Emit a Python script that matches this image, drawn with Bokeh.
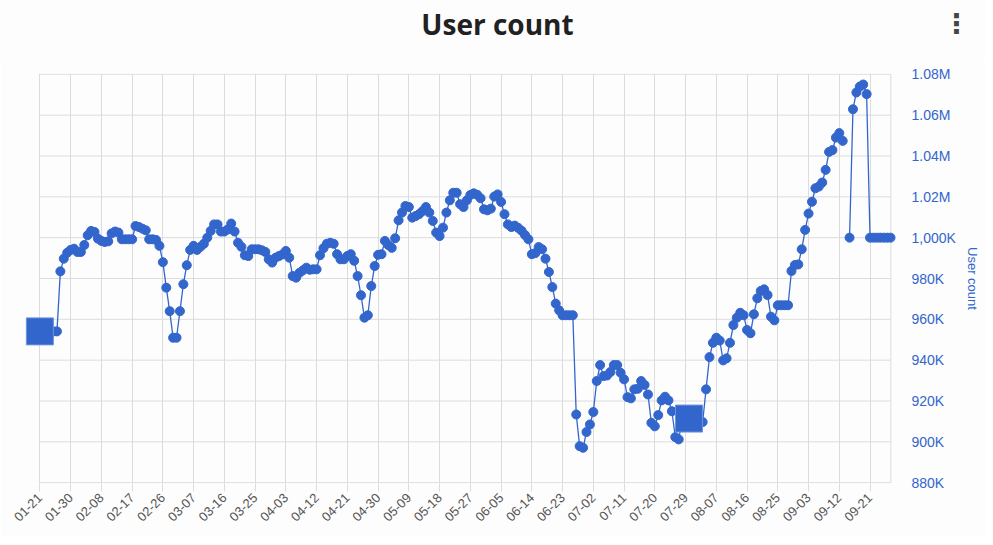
import numpy as np
import pandas as pd
from bokeh.plotting import figure
from bokeh.layouts import column
from bokeh.models import Range1d, FixedTicker, DatetimeTickFormatter, ColumnDataSource, Div
from bokeh.embed import file_html
from bokeh.resources import INLINE

# Daily user counts in thousands, starting 01-21 (None = missing day)
users_k = [
    954.1, 954.1, 954.1, 954.1, 954.1, 954.1, 983.5, 989.7, 992.6, 994.0,
    994.6, 993.0, 993.0, 996.4, 1001.2, 1003.3, 1002.8, 999.5, 998.4, 997.9,
    998.2, 1002.1, 1003.0, 1002.5, 999.2, 999.2, 999.2, 999.2, 1005.7, 1005.2,
    1004.4, 1003.6, 999.2, 999.2, 998.9, 996.0, 988.0, 975.5, 964.0, 951.0,
    951.0, 964.0, 977.2, 986.5, 994.0, 996.0, 994.0, 995.5, 997.0, 1000.0,
    1003.3, 1006.5, 1006.5, 1003.0, 1003.0, 1004.0, 1006.9, 1003.0, 997.5, 995.5,
    991.4, 991.0, 994.3, 994.3, 994.3, 993.8, 993.0, 989.4, 987.8, 990.2,
    991.0, 991.8, 993.5, 990.2, 981.2, 980.4, 982.8, 984.0, 985.3, 984.3,
    984.5, 984.5, 991.4, 994.8, 997.0, 997.5, 997.0, 991.9, 989.4, 989.4,
    991.0, 991.9, 988.7, 981.2, 971.8, 960.8, 962.0, 976.3, 986.1, 991.6,
    991.9, 998.4, 996.4, 995.0, 999.7, 1008.5, 1012.3, 1015.5, 1015.0, 1009.8,
    1010.6, 1011.5, 1013.0, 1015.0, 1012.3, 1008.2, 1002.5, 1000.8, 1004.9, 1012.3,
    1018.3, 1022.0, 1022.0, 1016.4, 1015.0, 1018.3, 1020.9, 1021.7, 1021.0, 1019.3,
    1013.9, 1013.4, 1014.2, 1020.1, 1021.2, 1017.5, 1011.5, 1006.5, 1005.2, 1005.9,
    1004.8, 1003.4, 1001.3, 999.2, 991.9, 992.4, 995.4, 994.3, 989.7, 983.2,
    975.8, 967.7, 964.4, 962.0, 962.0, 962.0, 962.0, 913.4, 897.9, 897.1,
    904.8, 908.5, 914.6, 929.8, 937.6, 932.2, 932.5, 934.2, 937.6, 937.6,
    933.8, 930.6, 921.9, 921.3, 925.7, 926.0, 929.8, 927.9, 923.2, 909.3,
    907.6, 913.1, 920.3, 922.1, 920.3, 915.0, 902.3, 901.2, 911.0, 911.5,
    911.4, 911.0, 910.5, 910.0, 909.7, 925.7, 941.5, 948.5, 951.0, 949.6,
    939.9, 940.9, 948.5, 957.2, 960.8, 963.2, 962.0, 954.8, 953.2, 962.5,
    970.3, 973.9, 974.7, 971.9, 961.3, 959.5, 966.9, 966.9, 966.9, 966.9,
    983.7, 986.6, 986.9, 994.3, 1003.8, 1011.8, 1017.6, 1024.2, 1025.0, 1027.0,
    1033.2, 1042.0, 1042.9, 1049.0, 1051.2, 1047.4, None, 1000.0, 1062.9, 1071.1,
    1074.0, 1075.0, 1070.3, 1000.0, 1000.0, 1000.0, 1000.0, 1000.0, 1000.0, 1000.0,
]
start_date = "2023-01-21"

# highlighted (square) points
highlight_dates = ["2023-01-21", "2023-07-30"]
highlight_k = [954.1, 911.4]

x_tick_labels = [
    "01-21", "01-30", "02-08", "02-17", "02-26", "03-07", "03-16", "03-25",
    "04-03", "04-12", "04-21", "04-30", "05-09", "05-18", "05-27", "06-05",
    "06-14", "06-23", "07-02", "07-11", "07-20", "07-29", "08-07", "08-16",
    "08-25", "09-03", "09-12", "09-21",
]
y_ticks = [880000, 900000, 920000, 940000, 960000, 980000, 1000000,
           1020000, 1040000, 1060000, 1080000]
y_tick_labels = ["880K", "900K", "920K", "940K", "960K", "980K", "1,000K",
                 "1.02M", "1.04M", "1.06M", "1.08M"]
title_text = "User count"
menu_text = "\u22ee"

BLUE = "#3366CC"
GRID = "#dcdcdc"
BG = "#fdfdfd"


def ms(ts):
    return pd.Timestamp(ts).value / 1e6


W = 985
HEAD_H = 63
BL, BT, FW, FH, BB = 24, 10, 878, 410, 54

# ---------------- header (title + menu icon) ----------------
head_html = (
    f'<div style="position:relative;width:{W}px;height:{HEAD_H}px;margin:0;padding:0;">'
    f'<div style="position:absolute;left:0;top:5px;width:995px;text-align:center;'
    f"font-family:'Open Sans';font-weight:bold;font-size:28px;line-height:38px;"
    f'color:#212121;white-space:nowrap;">{title_text}</div>'
    f'<div style="position:absolute;left:943px;top:5px;width:20px;text-align:center;'
    f"font-family:'DejaVu Sans';font-weight:bold;font-size:27px;line-height:38px;"
    f'color:#444444;">{menu_text}</div>'
    f'</div>'
)
head = Div(text=head_html, width=W, height=HEAD_H,
           styles={"background-color": BG, "margin": "0", "padding": "0"})

# ---------------- main chart ----------------
dates = pd.date_range(start_date, periods=len(users_k), freq="D")
users = np.array([np.nan if v is None else v * 1000 for v in users_k])
src = ColumnDataSource(dict(date=dates, users=users))

day = 86400000.0
t0 = ms(dates[0])
t_end = ms(dates[-1]) + 0.1 * day

p = figure(
    width=W, height=BT + FH + BB,
    output_backend="svg", toolbar_location=None,
    x_axis_type="datetime", y_axis_location="right",
    x_range=Range1d(t0 - 4.5 * day, t0 + 252.5 * day),
    y_range=Range1d(879600, 1080400),
    min_border_left=BL, min_border_right=W - BL - FW,
    min_border_top=BT, min_border_bottom=BB,
    background_fill_color=BG, border_fill_color=BG,
    outline_line_color=None,
)

# horizontal grid lines limited to the data span, plus right border
gsrc = ColumnDataSource(dict(x0=[t0] * len(y_ticks), x1=[t_end] * len(y_ticks),
                             y0=y_ticks, y1=y_ticks))
p.segment(x0="x0", x1="x1", y0="y0", y1="y1", source=gsrc,
          line_color=GRID, line_width=1)
p.segment(x0=[t_end], x1=[t_end], y0=[y_ticks[0]], y1=[y_ticks[-1]],
          line_color=GRID, line_width=1)

p.ygrid.visible = False
p.xgrid.grid_line_color = GRID
p.xgrid.ticker = FixedTicker(ticks=[ms(start_date[:5] + t) for t in x_tick_labels])

# data
p.line("date", "users", source=src, line_color=BLUE, line_width=1.3)
p.scatter("date", "users", source=src, size=9, color=BLUE)
p.scatter(x=[ms(d) for d in highlight_dates], y=[v * 1000 for v in highlight_k],
          marker="square", size=27, fill_color=BLUE, line_color="#6f93dd",
          line_width=1)

# x axis
xa = p.xaxis[0]
xa.ticker = FixedTicker(ticks=[ms(start_date[:5] + t) for t in x_tick_labels])
fmt = "%m-%d"
xa.formatter = DatetimeTickFormatter(days=fmt, months=fmt, hours=fmt,
                                     years=fmt, minutes=fmt, seconds=fmt)
xa.major_label_orientation = np.pi / 4
xa.axis_line_color = None
xa.major_tick_line_color = GRID
xa.major_tick_in = 0
xa.major_tick_out = 8
xa.minor_tick_line_color = None
xa.major_label_text_font = "Liberation Sans"
xa.major_label_text_font_size = "13px"
xa.major_label_text_color = "#555555"
xa.major_label_standoff = 4

# y axis (right)
ya = p.yaxis[0]
ya.ticker = FixedTicker(ticks=y_ticks)
ya.major_label_overrides = {t: l for t, l in zip(y_ticks, y_tick_labels)}
ya.axis_line_color = None
ya.major_tick_line_color = None
ya.minor_tick_line_color = None
ya.major_label_standoff = 3
ya.major_label_text_font = "Liberation Sans"
ya.major_label_text_font_size = "14px"
ya.major_label_text_color = BLUE
ya.axis_label = "User count"
ya.axis_label_text_font = "Liberation Sans"
ya.axis_label_text_font_size = "13px"
ya.axis_label_text_font_style = "normal"
ya.axis_label_text_color = BLUE
ya.axis_label_standoff = 6

layout = column(head, p, spacing=0)
open("out.html", "w").write(file_html(layout, INLINE))
